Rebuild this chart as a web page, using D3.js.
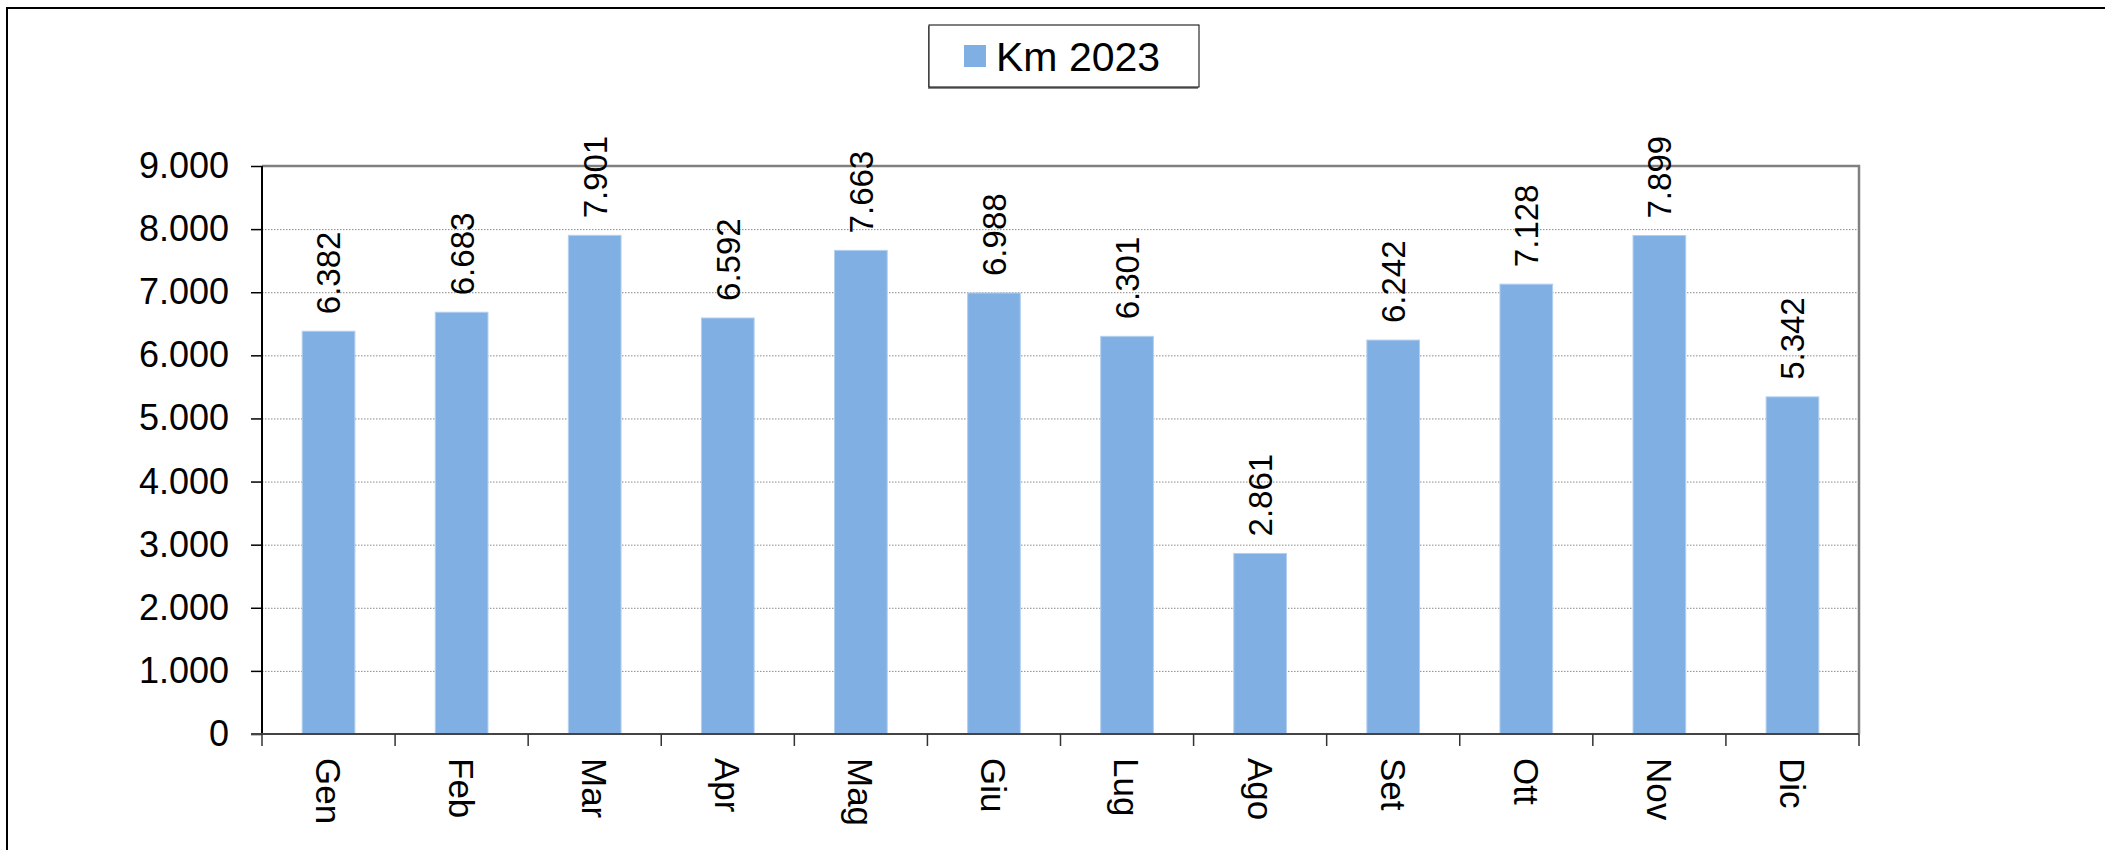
<!DOCTYPE html>
<html>
<head>
<meta charset="utf-8">
<script src="https://cdn.jsdelivr.net/npm/d3@7"></script>
<style>
  body { margin: 0; background: #fff; }
  svg { display: block; }
</style>
</head>
<body>
<div id="chart"></div>
<script>
// dati
var mesi = ["Gen", "Feb", "Mar", "Apr", "Mag", "Giu", "Lug", "Ago", "Set", "Ott", "Nov", "Dic"];
var km2023 = [6382, 6683, 7901, 6592, 7663, 6988, 6301, 2861, 6242, 7128, 7899, 5342];
var yTicks = [0, 1000, 2000, 3000, 4000, 5000, 6000, 7000, 8000, 9000];
var serie = "Km 2023";

drawChart()

function drawChart() {
	var W = 2105, H = 850;
	var plot = { left: 262, right: 1859, top: 166, bottom: 734 };
	var barColor = "#80b0e3";

	var it = d3.formatLocale({ decimal: ",", thousands: ".", grouping: [3], currency: ["€", ""] });
	var fmt = it.format(",d");

	var svg = d3.select("#chart")
		.append("svg")
		.attr("width", W)
		.attr("height", H);

	// cornice esterna (esce a destra e in basso)
	svg.append("rect")
		.attr("x", 7).attr("y", 8)
		.attr("width", W + 20).attr("height", H + 20)
		.attr("fill", "#fff")
		.attr("stroke", "#000")
		.attr("stroke-width", 2);

	var x = d3.scaleBand()
		.domain(mesi)
		.range([plot.left, plot.right])
		.paddingInner(0.604)
		.paddingOuter(0.302);

	var y = d3.scaleLinear()
		.domain([0, 9000])
		.range([plot.bottom, plot.top]);

	// griglia tratteggiata
	svg.append("g")
		.selectAll("line")
		.data(yTicks.filter(function (d) { return d > 0 && d < 9000; }))
		.join("line")
		.attr("x1", plot.left).attr("x2", plot.right)
		.attr("y1", function (d) { return y(d) + 0.5; })
		.attr("y2", function (d) { return y(d) + 0.5; })
		.attr("stroke", "#8a8a8a")
		.attr("stroke-width", 1)
		.attr("stroke-dasharray", "1.5,1.5");

	// bordo superiore e destro dell'area
	svg.append("path")
		.attr("d", `M${plot.left},${plot.top}H${plot.right}V${plot.bottom}`)
		.attr("fill", "none")
		.attr("stroke", "#808080")
		.attr("stroke-width", 2.5);

	// barre
	svg.append("g")
		.selectAll("rect")
		.data(km2023)
		.join("rect")
		.attr("x", function (d, i) { return x(mesi[i]); })
		.attr("y", function (d) { return y(d); })
		.attr("width", x.bandwidth())
		.attr("height", function (d) { return y(0) - y(d); })
		.attr("fill", barColor)
		.attr("stroke", "#b3cff0")
		.attr("stroke-width", 1);

	// etichette valori
	svg.append("g")
		.selectAll("text")
		.data(km2023)
		.join("text")
		.attr("transform", function (d, i) {
			return `translate(${x(mesi[i]) + x.bandwidth() / 2},${y(d) - 17}) rotate(-90)`;
		})
		.attr("dy", "0.36em")
		.style("font-family", "'Liberation Sans Narrow', 'Arial Narrow', 'Liberation Sans', Arial, sans-serif")
		.style("font-stretch", "condensed")
		.style("font-size", "33px")
		.style("text-anchor", "start")
		.attr("fill", "#000")
		.text(function (d) { return fmt(d); });

	// asse Y
	var yAxis = svg.append("g")
		.attr("transform", `translate(${plot.left},0)`)
		.call(d3.axisLeft(y).tickValues(yTicks).tickSize(11).tickPadding(22).tickFormat(fmt));
	yAxis.select(".domain")
		.attr("d", `M0,${plot.top}V${plot.bottom}`)
		.attr("stroke", "#000")
		.attr("stroke-width", 2);
	yAxis.selectAll(".tick line").attr("stroke", "#000").attr("stroke-width", 1.5);
	yAxis.selectAll(".tick text")
		.style("font-family", "'Liberation Sans', Arial, sans-serif")
		.style("font-size", "36px")
		.attr("fill", "#000");

	// asse X
	var bordi = mesi.map(function (m) { return x(m) - (x.step() - x.bandwidth()) / 2; });
	bordi.push(plot.right);
	var xg = svg.append("g");
	xg.append("line")
		.attr("x1", plot.left - 11).attr("x2", plot.right)
		.attr("y1", plot.bottom).attr("y2", plot.bottom)
		.attr("stroke", "#444").attr("stroke-width", 2);
	xg.selectAll("line.tk")
		.data(bordi)
		.join("line")
		.attr("class", "tk")
		.attr("x1", function (d) { return d; }).attr("x2", function (d) { return d; })
		.attr("y1", plot.bottom).attr("y2", plot.bottom + 12)
		.attr("stroke", "#333").attr("stroke-width", 1.5);
	xg.selectAll("text")
		.data(mesi)
		.join("text")
		.attr("transform", function (d) {
			return `translate(${x(d) + x.bandwidth() / 2},${plot.bottom + 24}) rotate(90)`;
		})
		.attr("dy", "0.36em")
		.style("font-family", "'Liberation Sans', Arial, sans-serif")
		.style("font-size", "35px")
		.style("text-anchor", "start")
		.attr("fill", "#000")
		.text(function (d) { return d; });

	// legenda
	var lg = svg.append("g").attr("transform", "translate(929,25)");
	lg.append("rect")
		.attr("x", -1).attr("y", 1)
		.attr("width", 270).attr("height", 63)
		.attr("fill", "#888");
	lg.append("rect")
		.attr("x", 0).attr("y", 0)
		.attr("width", 270).attr("height", 62)
		.attr("fill", "#fff")
		.attr("stroke", "#000")
		.attr("stroke-width", 1);
	lg.append("rect")
		.attr("x", 35).attr("y", 20)
		.attr("width", 22).attr("height", 22)
		.attr("fill", barColor);
	lg.append("text")
		.attr("x", 67).attr("y", 46)
		.style("font-family", "'Liberation Sans', Arial, sans-serif")
		.style("font-size", "41px")
		.attr("fill", "#000")
		.text(serie);
}
</script>
</body>
</html>
